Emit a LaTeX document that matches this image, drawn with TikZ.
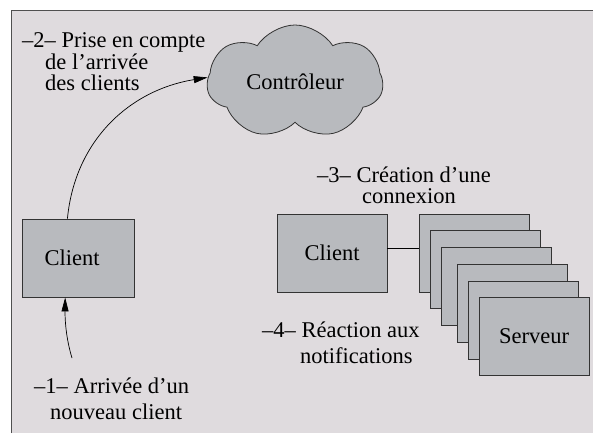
\documentclass[tikz,border=0pt]{standalone}
\usepackage{fontspec}
\newfontfamily\labelfont{Liberation Serif}
\usetikzlibrary{shapes.symbols,arrows.meta}
\definecolor{panel}{HTML}{DFDBDE}
\definecolor{boxgray}{HTML}{B8BABE}
\definecolor{edge}{HTML}{333333}
\definecolor{framecol}{HTML}{505050}
\tikzset{
  txt/.style={font=\labelfont\fontsize{22.5}{22.5}\selectfont, inner sep=0pt},
  lbl/.style={txt, anchor=base west},
  procbox/.style={draw=edge, fill=boxgray, line width=0.9pt, minimum width=110pt,
    minimum height=78pt, inner sep=0pt, txt},
  ctrl/.style={cloud, cloud puffs=7, cloud puff arc=115, cloud ignores aspect,
    draw=edge, fill=boxgray, line width=0.8pt, minimum width=176pt,
    minimum height=114pt, inner sep=0pt, txt},
  flow/.style={line width=0.7pt, -{Triangle[length=14pt,width=7pt]}},
  link/.style={line width=0.8pt}
}
\begin{document}
\begin{tikzpicture}[x=1pt,y=-1pt]
\useasboundingbox (0,0) rectangle (593,433);
% panel
\fill[panel] (11.5,10.5) rectangle (593,433);
\draw[framecol, line width=1.4pt] (11.5,433) -- (11.5,10.5) -- (593,10.5);

% controller
\node[ctrl] (ctl) at (295,82) {Contrôleur};

% newly arrived client
\node[procbox, minimum width=112pt] (c1) at (78,258) {\hspace*{-12pt}Client};

% connected client and its server processes
\node[procbox] (c2) at (332,253) {Client};
\node[procbox] (s1) at (474,253) {};
\node[procbox] (s2) at (485,269.5) {};
\node[procbox] (s3) at (496,286) {};
\node[procbox] (s4) at (512,303) {};
\node[procbox] (s5) at (523,320) {};
\node[procbox] (s6) at (534,336) {Serveur};

% labels
\node[lbl] (l1a) at (34,393) {–1– Arrivée d’un};
\node[lbl] (l1b) at (50,419) {nouveau client};
\node[lbl] (l2a) at (22,48) {–2– Prise en compte};
\node[lbl] (l2b) at (45,70) {de l’arrivée};
\node[lbl] (l2c) at (45,91) {des clients};
\node[lbl] (l3a) at (317,182) {–3– Création d’une};
\node[lbl] (l3b) at (362,203) {connexion};
\node[lbl] (l4a) at (262,337) {–4– Réaction aux};
\node[lbl] (l4b) at (300,363) {notifications};

% connectors
\coordinate (arrive) at (72,358);
\draw[flow] (arrive) .. controls (65,335) and (65,315) .. (c1.252);
\draw[flow] (c1.105) .. controls (75,140) and (130,90) .. (ctl.177);
\draw[link] (c2.5) -- (s1.175);
\end{tikzpicture}
\end{document}
